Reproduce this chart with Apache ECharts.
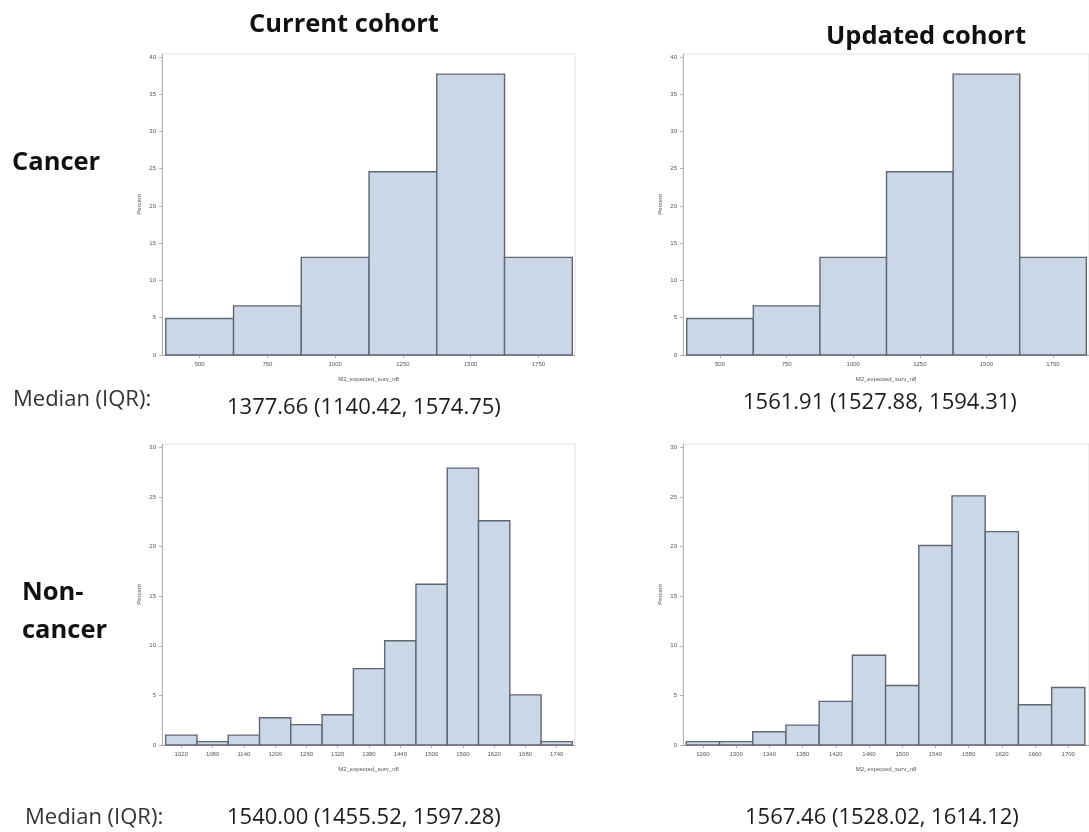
<!DOCTYPE html>
<html>
<head>
<meta charset="utf-8">
<script src="https://cdn.jsdelivr.net/npm/echarts@6/dist/echarts.min.js"></script>
<style>
html,body{margin:0;padding:0;background:#fff;}
#chart{width:1089px;height:832px;}
</style>
</head>
<body>
<div id="chart"></div>
<script>
// ---- Data ----
// Cancer, current cohort (bin width 250)
const cancerCurrentBins = [500, 750, 1000, 1250, 1500, 1750];
const cancerCurrentPct  = [4.9, 6.6, 13.1, 24.6, 37.7, 13.1];
// Cancer, updated cohort (bin width 250)
const cancerUpdatedBins = [500, 750, 1000, 1250, 1500, 1750];
const cancerUpdatedPct  = [4.9, 6.6, 13.1, 24.6, 37.7, 13.1];
// Non-cancer, current cohort (bin width 60)
const nonCurrentBins = [1020, 1080, 1140, 1200, 1260, 1320, 1380, 1440, 1500, 1560, 1620, 1680, 1740];
const nonCurrentPct  = [1.0, 0.34, 1.0, 2.75, 2.05, 3.05, 7.7, 10.5, 16.2, 27.9, 22.6, 5.05, 0.34];
// Non-cancer, updated cohort (bin width 40)
const nonUpdatedBins = [1260, 1300, 1340, 1380, 1420, 1460, 1500, 1540, 1580, 1620, 1660, 1700];
const nonUpdatedPct  = [0.34, 0.34, 1.34, 2.0, 4.4, 9.05, 6.0, 20.1, 25.1, 21.5, 4.05, 5.8];

const binWidths = [250, 250, 60, 40];

// Tick labels
const cancerXTicks = [500, 750, 1000, 1250, 1500, 1750];
const nonCurrentXTicks = [1020, 1080, 1140, 1200, 1260, 1320, 1380, 1440, 1500, 1560, 1620, 1680, 1740];
const nonUpdatedXTicks = [1260, 1300, 1340, 1380, 1420, 1460, 1500, 1540, 1580, 1620, 1660, 1700];
const cancerYTicks = [0, 5, 10, 15, 20, 25, 30, 35, 40];
const nonYTicks = [0, 5, 10, 15, 20, 25, 30];

// Text
const colTitles = ['Current cohort', 'Updated cohort'];
const rowTitles = ['Cancer', 'Non-', 'cancer'];
const medianLabel = 'Median (IQR):';
const medianTexts = ['1377.66 (1140.42, 1574.75)', '1561.91 (1527.88, 1594.31)',
                     '1540.00 (1455.52, 1597.28)', '1567.46 (1528.02, 1614.12)'];
const xName = 'M2_expected_surv_n8';
const yName = 'Percent';

// ---- Layout / style ----
const grids = [
  {left: 162, top: 54,  width: 413, height: 301},
  {left: 683, top: 54,  width: 413, height: 301},
  {left: 162, top: 444, width: 413, height: 301},
  {left: 683, top: 444, width: 413, height: 301}
];
const xRanges = [[361, 1885], [361, 1885], [983, 1775], [1236, 1725]];
const yRanges = [[0, 40.4], [0, 40.4], [0, 30.33], [0, 30.33]];
const xTickSets = [cancerXTicks, cancerXTicks, nonCurrentXTicks, nonUpdatedXTicks];
const yTickSets = [cancerYTicks, cancerYTicks, nonYTicks, nonYTicks];
const binSets = [cancerCurrentBins, cancerUpdatedBins, nonCurrentBins, nonUpdatedBins];
const pctSets = [cancerCurrentPct, cancerUpdatedPct, nonCurrentPct, nonUpdatedPct];

const tinyFont = {fontSize: 6, color: '#555', fontFamily: 'Liberation Sans, Arial, sans-serif'};
const axisLineColor = '#b4b4b4';
const plain = v => String(v);

const xAxes = grids.map((g, i) => ({
  type: 'value', gridIndex: i, min: xRanges[i][0], max: xRanges[i][1],
  name: xName, nameLocation: 'middle', nameGap: 21,
  nameTextStyle: tinyFont,
  axisLine: {show: true, lineStyle: {color: axisLineColor, width: 1}},
  axisTick: {show: true, length: 3, customValues: xTickSets[i], lineStyle: {color: axisLineColor}},
  axisLabel: {customValues: xTickSets[i], margin: 6, formatter: plain, ...tinyFont},
  splitLine: {show: false}
}));
const yAxes = grids.map((g, i) => ({
  type: 'value', gridIndex: i, min: yRanges[i][0], max: yRanges[i][1],
  name: yName, nameLocation: 'middle', nameGap: 20,
  nameTextStyle: tinyFont,
  axisLine: {show: true, lineStyle: {color: axisLineColor, width: 1}},
  axisTick: {show: true, length: 3, customValues: yTickSets[i], lineStyle: {color: axisLineColor}},
  axisLabel: {customValues: yTickSets[i], margin: 6, formatter: plain, ...tinyFont},
  splitLine: {show: false}
}));

const series = grids.map((g, i) => ({
  type: 'custom', xAxisIndex: i, yAxisIndex: i,
  clip: false,
  data: binSets[i].map((c, k) => [c, pctSets[i][k]]),
  renderItem: function (params, api) {
    const c = api.value(0), h = api.value(1), w = binWidths[i];
    const p0 = api.coord([c - w / 2, h]);
    const p1 = api.coord([c + w / 2, 0]);
    return {
      type: 'rect',
      shape: {x: p0[0], y: p0[1], width: p1[0] - p0[0], height: p1[1] - p0[1]},
      style: {fill: '#cbd6e6', stroke: '#5f6773', lineWidth: 1.4}
    };
  }
}));

const boldFont = '700 25.5px "Open Sans", "Noto Sans", sans-serif';
const regFont = '22px "Open Sans", "Noto Sans", sans-serif';
function txt(text, x, y, font, align, color) {
  return {type: 'text', x: x, y: y, silent: true,
    style: {text: text, font: font, fill: color || '#111', align: align || 'left', verticalAlign: 'middle'}};
}

const graphics = [
  txt(colTitles[0], 344, 25, boldFont, 'center'),
  txt(colTitles[1], 926, 37, boldFont, 'center'),
  txt(rowTitles[0], 12, 163, boldFont),
  txt(rowTitles[1], 22, 593, boldFont),
  txt(rowTitles[2], 22, 631, boldFont),
  txt(medianLabel, 13, 400, regFont, 'left', '#333'),
  txt(medianTexts[0], 227, 408, regFont, 'left', '#1c1c1c'),
  txt(medianTexts[1], 743, 403, regFont, 'left', '#1c1c1c'),
  txt(medianLabel, 25, 818, regFont, 'left', '#333'),
  txt(medianTexts[2], 227, 818, regFont, 'left', '#1c1c1c'),
  txt(medianTexts[3], 745, 818, regFont, 'left', '#1c1c1c')
];

const chart = echarts.init(document.getElementById('chart'), null, {renderer: 'canvas'});
chart.setOption({
  animation: false,
  backgroundColor: '#fff',
  grid: grids.map(g => ({...g, show: true, borderColor: '#e2e2e2', borderWidth: 1, backgroundColor: 'transparent', containLabel: false})),
  xAxis: xAxes,
  yAxis: yAxes,
  series: series,
  graphic: graphics
});
</script>
</body>
</html>
